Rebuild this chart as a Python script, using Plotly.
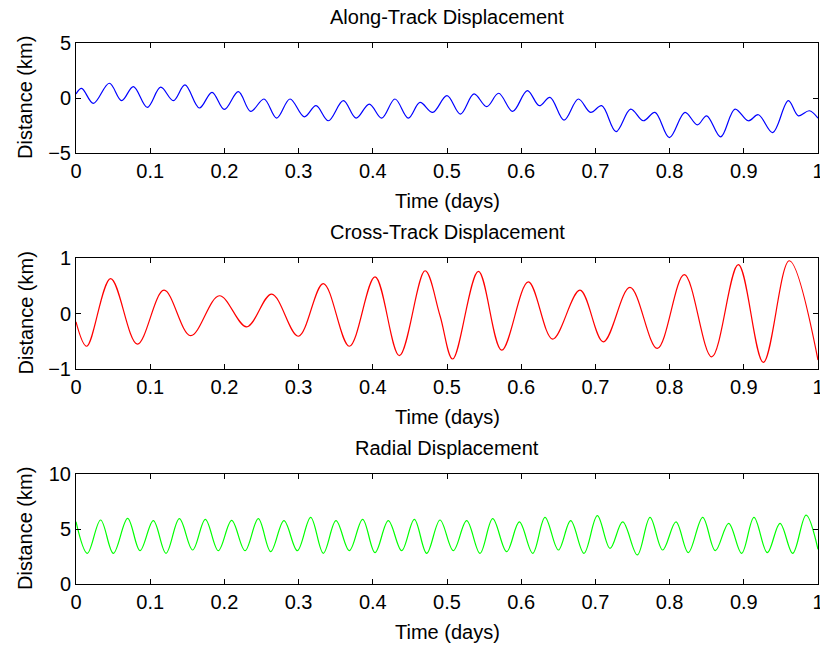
import plotly.graph_objects as go

# ---------------- data ----------------
t_along = [0.000, 0.0076, 0.0234, 0.0449, 0.0615, 0.0773, 0.0961, 0.1141, 0.1312, 0.1469,
           0.1662, 0.1833, 0.1999, 0.2188, 0.2354, 0.2534, 0.2704, 0.2884, 0.3077, 0.3235,
           0.3401, 0.3603, 0.3774, 0.3953, 0.4120, 0.4299, 0.4479, 0.4636, 0.4807, 0.5000,
           0.5180, 0.5364, 0.5535, 0.5696, 0.5885, 0.6083, 0.6244, 0.6388, 0.6577, 0.6770,
           0.6936, 0.7085, 0.7278, 0.7475, 0.7646, 0.7803, 0.7997, 0.8207, 0.8374, 0.8500,
           0.8688, 0.8881, 0.9061, 0.9196, 0.9389, 0.9600, 0.9735, 0.9883, 1.0000]
d_along = [0.37, 0.88, -0.49, 1.34, -0.24, 1.04, -0.85, 0.98, -0.24, 1.19,
           -0.91, 0.52, -1.04, 0.58, -1.22, -0.09, -1.83, -0.09, -1.71, -0.70,
           -2.07, -0.24, -1.83, -0.55, -1.83, -0.09, -1.83, -0.40, -1.31, 0.21,
           -1.46, 0.37, -0.79, 0.43, -1.22, 0.67, -0.70, 0.06, -2.01, -0.09,
           -1.31, -0.70, -3.05, -1.01, -2.07, -1.31, -3.60, -1.31, -2.44, -1.62,
           -3.54, -1.01, -2.07, -1.52, -3.14, -0.24, -1.62, -1.16, -1.83]

t_cross = [0.000, 0.0144, 0.0467, 0.0827, 0.1186, 0.1545, 0.1932, 0.2300, 0.2637, 0.2996,
           0.3333, 0.3684, 0.4030, 0.4358, 0.4704, 0.4906, 0.5077, 0.5423, 0.5737, 0.6096,
           0.6424, 0.6792, 0.7107, 0.7466, 0.7834, 0.8198, 0.8567, 0.8926, 0.9263, 0.9613,
           1.0000]
d_cross = [-0.15, -0.59, 0.63, -0.55, 0.42, -0.40, 0.32, -0.24, 0.35, -0.41,
           0.54, -0.59, 0.66, -0.76, 0.77, -0.04, -0.82, 0.76, -0.66, 0.57,
           -0.46, 0.42, -0.51, 0.47, -0.63, 0.70, -0.78, 0.88, -0.88, 0.95,
           -0.84]

t_radial = [0.000, 0.0153, 0.0332, 0.0503, 0.0696, 0.0863, 0.1042, 0.1213, 0.1393, 0.1572,
            0.1743, 0.1918, 0.2098, 0.2278, 0.2457, 0.2624, 0.2803, 0.2983, 0.3163, 0.3333,
            0.3504, 0.3684, 0.3863, 0.4030, 0.4209, 0.4389, 0.4560, 0.4726, 0.4906, 0.5085,
            0.5265, 0.5445, 0.5616, 0.5804, 0.5975, 0.6155, 0.6321, 0.6501, 0.6667, 0.6846,
            0.7026, 0.7197, 0.7368, 0.7565, 0.7736, 0.7906, 0.8086, 0.8252, 0.8446, 0.8616,
            0.8796, 0.8971, 0.9137, 0.9317, 0.9488, 0.9659, 0.9839, 1.0000]
d_radial = [5.67, 2.79, 5.82, 2.79, 5.97, 3.03, 5.76, 2.79, 5.94, 3.09,
            5.88, 3.03, 5.79, 3.03, 5.94, 2.94, 5.76, 3.03, 6.06, 2.79,
            5.76, 3.03, 5.88, 2.85, 5.76, 3.03, 5.88, 2.79, 5.82, 3.03,
            5.76, 2.79, 5.94, 2.94, 5.64, 2.79, 6.06, 3.09, 5.76, 2.79,
            6.21, 3.24, 5.64, 2.64, 6.06, 3.09, 5.64, 2.85, 6.06, 3.03,
            5.52, 2.79, 6.06, 2.85, 5.52, 2.79, 6.27, 3.15]

titles = ["Along-Track Displacement", "Cross-Track Displacement", "Radial Displacement"]
x_title = "Time (days)"
y_title = "Distance (km)"
x_ticks = [0, 0.1, 0.2, 0.3, 0.4, 0.5, 0.6, 0.7, 0.8, 0.9, 1]
x_ticktext = ["0", "0.1", "0.2", "0.3", "0.4", "0.5", "0.6", "0.7", "0.8", "0.9", "1"]
y_ranges = [[-5, 5], [-1, 1], [0, 10]]
y_ticks = [[-5, 0, 5], [-1, 0, 1], [0, 5, 10]]
colors = ["#0000FF", "#FF0000", "#00FF00"]

# ---------------- layout geometry ----------------
W, H = 820, 648
x_left, x_right = 76, 818
panels_px = [(43, 153), (258, 369), (474, 584)]   # (top, bottom) in pixels
FONT = "Liberation Sans, Arial, sans-serif"
FS = 20

fig = go.Figure()
series = [(t_along, d_along), (t_cross, d_cross), (t_radial, d_radial)]
annotations = []
for i, ((tx, dy), (top, bot)) in enumerate(zip(series, panels_px)):
    n = "" if i == 0 else str(i + 1)
    fig.add_trace(go.Scatter(x=tx, y=dy, mode="lines",
                             line=dict(color=colors[i], width=1.2, shape="spline", smoothing=1.0),
                             xaxis="x" + n, yaxis="y" + n, showlegend=False,
                             hoverinfo="skip"))
    axis_common = dict(showline=True, linecolor="black", linewidth=1, mirror="ticks",
                       ticks="inside", ticklen=5, tickcolor="black", tickwidth=1,
                       showgrid=False, zeroline=False, automargin=False,
                       ticklabeloverflow="allow",
                       tickfont=dict(family=FONT, size=FS, color="black"))
    fig.update_layout(**{
        "xaxis" + n: dict(domain=[x_left / W, x_right / W], range=[0, 1],
                          tickvals=x_ticks, ticktext=x_ticktext,
                          anchor="y" + n, **axis_common),
        "yaxis" + n: dict(domain=[1 - bot / H, 1 - top / H], range=y_ranges[i],
                          tickvals=y_ticks[i], anchor="x" + n, **axis_common),
    })
    annotations.append(dict(text=titles[i], x=(x_left + x_right) / 2 / W, y=1 - (top - 26) / H,
                            xref="paper", yref="paper", showarrow=False,
                            xanchor="center", yanchor="middle",
                            font=dict(family=FONT, size=FS, color="black")))
    annotations.append(dict(text=x_title, x=(x_left + x_right) / 2 / W, y=1 - (bot + 48) / H,
                            xref="paper", yref="paper", showarrow=False,
                            xanchor="center", yanchor="middle",
                            font=dict(family=FONT, size=FS, color="black")))
    annotations.append(dict(text=y_title, x=25 / W, y=1 - (top + bot) / 2 / H,
                            xref="paper", yref="paper", showarrow=False, textangle=-90,
                            xanchor="center", yanchor="middle",
                            font=dict(family=FONT, size=FS, color="black")))

fig.update_layout(width=W, height=H, margin=dict(l=0, r=0, t=0, b=0),
                  paper_bgcolor="white", plot_bgcolor="white",
                  template="none", annotations=annotations)

fig.write_html("out.html")
